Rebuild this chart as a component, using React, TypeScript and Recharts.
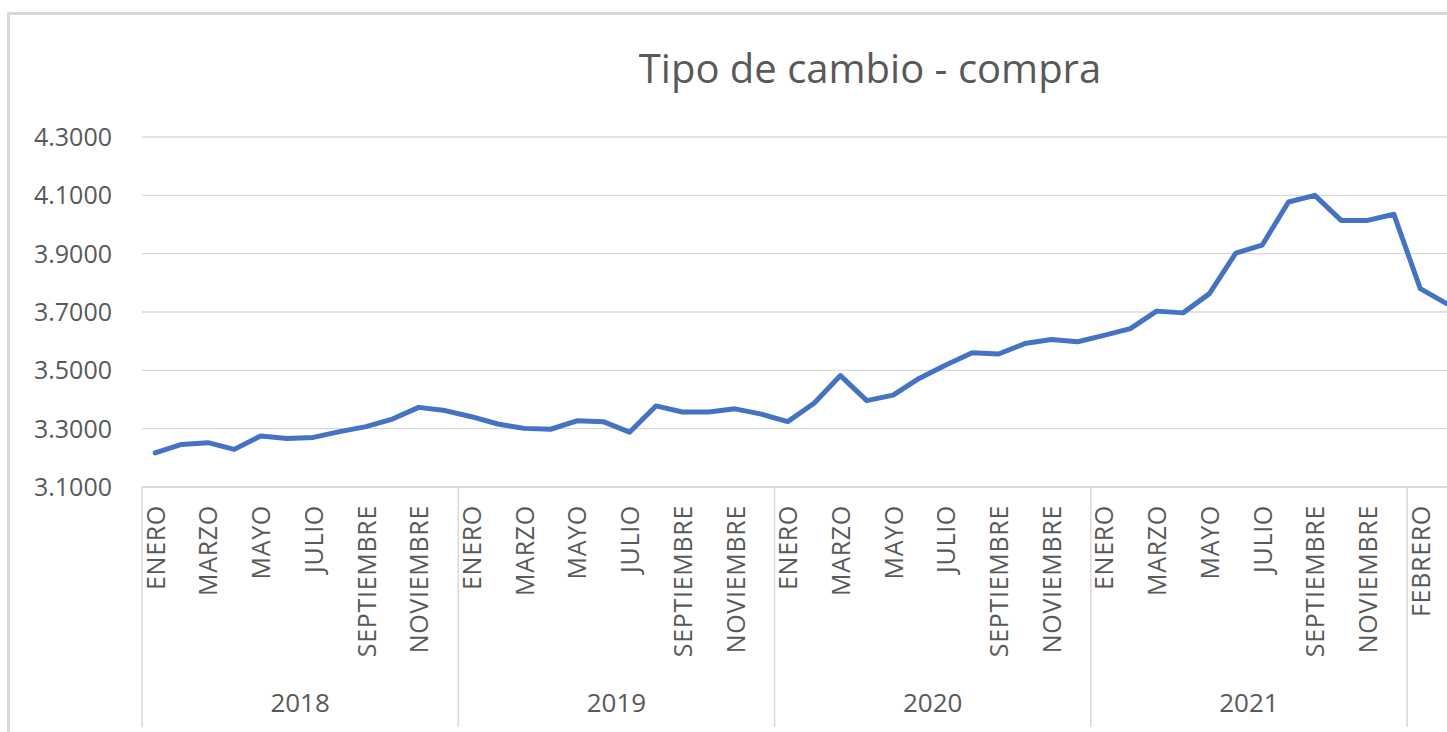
import { LineChart, Line, XAxis, YAxis, CartesianGrid } from 'recharts';

// nombres de meses y años del eje
const MESES = [
  'ENERO', 'FEBRERO', 'MARZO', 'ABRIL', 'MAYO', 'JUNIO',
  'JULIO', 'AGOSTO', 'SEPTIEMBRE', 'OCTUBRE', 'NOVIEMBRE', 'DICIEMBRE',
];
const ANIOS = [2018, 2019, 2020, 2021, 2022];

// tipo de cambio compra (2022 arranca en febrero)
const compra2018 = [3.217, 3.246, 3.252, 3.229, 3.275, 3.266, 3.27, 3.29, 3.307, 3.333, 3.373, 3.362];
const compra2019 = [3.341, 3.316, 3.301, 3.298, 3.327, 3.324, 3.288, 3.378, 3.357, 3.357, 3.368, 3.35];
const compra2020 = [3.324, 3.387, 3.482, 3.396, 3.415, 3.473, 3.518, 3.56, 3.556, 3.592, 3.606, 3.598];
const compra2021 = [3.62, 3.643, 3.703, 3.697, 3.763, 3.902, 3.929, 4.077, 4.1, 4.014, 4.014, 4.035];
const compra2022 = [3.78, 3.729];

const Y_TICKS = [3.1, 3.3, 3.5, 3.7, 3.9, 4.1, 4.3];

const seriesPorAnio: Record<number, { meses: string[]; valores: number[] }> = {
  2018: { meses: MESES, valores: compra2018 },
  2019: { meses: MESES, valores: compra2019 },
  2020: { meses: MESES, valores: compra2020 },
  2021: { meses: MESES, valores: compra2021 },
  2022: { meses: MESES.slice(1), valores: compra2022 },
};

const data = ANIOS.flatMap((anio) =>
  seriesPorAnio[anio].meses.map((mes, i) => ({
    key: `${anio}-${mes}`,
    mes,
    anio,
    valor: seriesPorAnio[anio].valores[i] ?? null,
  })),
);

const CHART_W = 1726;
const CHART_H = 720;
const Y_AXIS_W = 135;
const MARGIN = { top: 125, right: 36, bottom: 0, left: 0 };
const PLOT_W = CHART_W - Y_AXIS_W - MARGIN.right - MARGIN.left;
const STEP = PLOT_W / data.length;

const GRAY_TEXT = '#595959';
const GRAY_LINE = '#d9d9d9';

function MonthTick(props: any) {
  const { x, y, index } = props;
  const row = data[index];
  if (!row) return null;
  const yearStart = index === 0 || data[index - 1].anio !== row.anio;
  const count = data.filter((d) => d.anio === row.anio).length;
  const left = x - STEP / 2;
  return (
    <g>
      {index % 2 === 0 && (
        <text
          transform={`translate(${x + 9.5},${y + 18}) rotate(-90)`}
          textAnchor="end"
          fontSize={25}
          letterSpacing={0.7}
          fill={GRAY_TEXT}
        >
          {row.mes}
        </text>
      )}
      {yearStart && (
        <line x1={left} x2={left} y1={y} y2={y + 240} stroke={GRAY_LINE} strokeWidth={1.5} />
      )}
      {yearStart && (
        <text x={left + (count * STEP) / 2} y={y + 225} textAnchor="middle" fontSize={26} fill={GRAY_TEXT}>
          {row.anio}
        </text>
      )}
    </g>
  );
}

export default function App() {
  return (
    <div
      style={{
        position: 'fixed',
        left: 7,
        top: 12,
        width: 1440,
        height: 720,
        overflow: 'hidden',
        background: '#fff',
        fontFamily: '"Open Sans", sans-serif',
      }}
    >
      <div
        style={{
          position: 'absolute',
          left: 0,
          top: 35.5,
          width: CHART_W,
          textAlign: 'center',
          fontSize: 40,
          lineHeight: '40px',
          color: GRAY_TEXT,
        }}
      >
        Tipo de cambio - compra
      </div>
      <div style={{ position: 'absolute', left: 0, top: 0 }}>
        <LineChart width={CHART_W} height={CHART_H} data={data} margin={MARGIN}>
          <CartesianGrid horizontal vertical={false} stroke={GRAY_LINE} strokeWidth={1.3} />
          <XAxis
            dataKey="key"
            interval={0}
            height={CHART_H - MARGIN.top - 350}
            tickLine={false}
            tickSize={0}
            tickMargin={0}
            axisLine={{ stroke: GRAY_LINE, strokeWidth: 1.5 }}
            padding={{ left: STEP / 2, right: STEP / 2 }}
            tick={<MonthTick />}
          />
          <YAxis
            width={Y_AXIS_W}
            domain={[3.1, 4.3]}
            ticks={Y_TICKS}
            axisLine={false}
            tickLine={false}
            tickSize={0}
            tickMargin={30}
            tickFormatter={(v: number) => v.toFixed(4)}
            tick={{ fontSize: 25, fill: GRAY_TEXT }}
          />
          <Line
            type="linear"
            dataKey="valor"
            stroke="#4472C4"
            strokeWidth={5}
            strokeLinejoin="round"
            strokeLinecap="round"
            dot={false}
            isAnimationActive={false}
          />
        </LineChart>
      </div>
      <div
        style={{
          position: 'absolute',
          left: 0,
          top: 0,
          width: CHART_W,
          height: 800,
          border: `3px solid ${GRAY_LINE}`,
          boxSizing: 'border-box',
          pointerEvents: 'none',
        }}
      />
    </div>
  );
}
